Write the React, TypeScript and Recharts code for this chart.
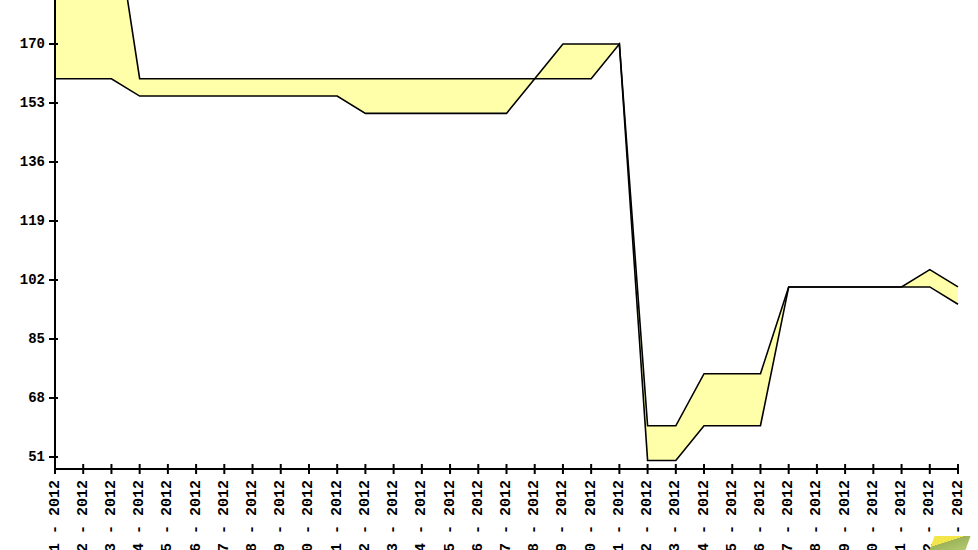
import { AreaChart, Area, XAxis, YAxis } from "recharts";

// week labels, read bottom-to-top on the axis
const weeks = [
  "01", "02", "03", "04", "05", "06", "07", "08", "09", "10", "11",
  "12", "13", "14", "15", "16", "17", "18", "19", "20", "21", "22",
  "23", "24", "25", "26", "27", "28", "29", "30", "31", "32", "33",
];
const lowValues = [
  160, 160, 160, 155, 155, 155, 155, 155, 155, 155, 155,
  150, 150, 150, 150, 150, 150, 160, 160, 160, 170, 50,
  50, 60, 60, 60, 100, 100, 100, 100, 100, 100, 95,
];
const highValues = [
  213, 213, 213, 160, 160, 160, 160, 160, 160, 160, 160,
  160, 160, 160, 160, 160, 160, 160, 170, 170, 170, 60,
  60, 75, 75, 75, 100, 100, 100, 100, 100, 105, 100,
];
const yTicks = [51, 68, 85, 102, 119, 136, 153, 170];

const data = weeks.map((w, i) => ({
  name: `${w} - 2012`,
  range: [lowValues[i], highValues[i]],
}));

const font = "'Liberation Mono', 'Courier New', monospace";

function XTick(props: any) {
  const { x, y, payload } = props;
  return (
    <g>
      <line x1={x} y1={y - 5} x2={x} y2={y + 5} stroke="#000" strokeWidth={2} />
      <text
        x={x}
        y={y + 11}
        transform={`rotate(-90, ${x}, ${y + 11})`}
        textAnchor="end"
        dominantBaseline="central"
        fontFamily={font}
        fontWeight="bold"
        fontSize={15}
        fill="#000"
      >
        {payload.value}
      </text>
    </g>
  );
}

function YTick(props: any) {
  const { x, y, payload } = props;
  return (
    <g>
      <line x1={x - 6} y1={y} x2={x + 3} y2={y} stroke="#000" strokeWidth={2} />
      <text
        x={x - 10}
        y={y}
        textAnchor="end"
        dominantBaseline="central"
        fontFamily={font}
        fontWeight="bold"
        fontSize={14}
        fill="#000"
      >
        {payload.value}
      </text>
    </g>
  );
}

export default function App() {
  return (
    <div style={{ position: "absolute", left: 0, top: 0, width: 978, height: 550, background: "#fff" }}>
      <AreaChart width={978} height={550} data={data} margin={{ top: 0, right: 20, bottom: 0, left: 0 }}>
        <XAxis
          dataKey="name"
          height={81}
          interval={0}
          tickLine={false}
          tickSize={0}
          tickMargin={0}
          axisLine={{ stroke: "#000", strokeWidth: 2 }}
          tick={<XTick />}
        />
        <YAxis
          width={55}
          type="number"
          domain={[47.54, 182.68]}
          allowDataOverflow
          ticks={yTicks}
          interval={0}
          tickLine={false}
          tickSize={0}
          tickMargin={0}
          axisLine={{ stroke: "#000", strokeWidth: 2 }}
          tick={<YTick />}
        />
        <Area
          type="linear"
          dataKey="range"
          stroke="#000"
          strokeWidth={1.6}
          fill="#ffffaa"
          fillOpacity={1}
          dot={false}
          activeDot={false}
          isAnimationActive={false}
        />
      </AreaChart>
      <div
        style={{
          position: "absolute",
          left: 932,
          top: 536,
          width: 36,
          height: 14,
          background: "linear-gradient(160deg, #f2e64a 0%, #f2e64a 40%, #9cb35a 41%, #b4c96e 100%)",
          transform: "skewX(-20deg)",
        }}
      />
    </div>
  );
}
